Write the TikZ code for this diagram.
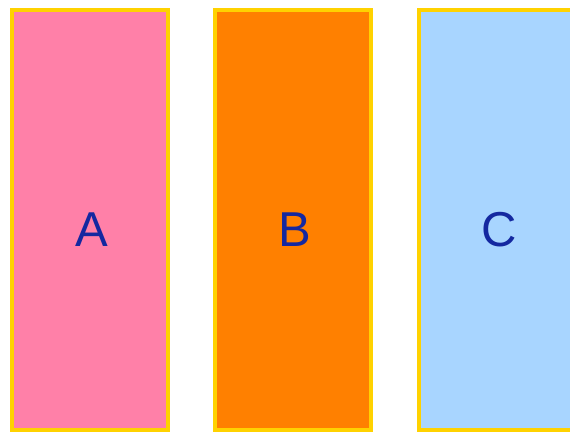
\documentclass[tikz,border=0pt]{standalone}
\usepackage{fontspec}
\setmainfont{Liberation Sans}
\usepackage{tikz}
\definecolor{barpink}{HTML}{FF80A8}
\definecolor{barorange}{HTML}{FF8000}
\definecolor{barblue}{HTML}{A8D5FF}
\definecolor{bargold}{HTML}{FFD200}
\definecolor{letterblue}{HTML}{1428A0}
\begin{document}
\begin{tikzpicture}[x=1pt,y=1pt,
  bar/.style={draw=bargold,line width=4pt,rectangle,inner sep=0pt,
    minimum width=156pt,minimum height=420pt},
  letter/.style={text=letterblue,inner sep=0pt,font=\fontsize{49}{49}\selectfont}]

\useasboundingbox (0,0) rectangle (570,432);

\node[bar,fill=barpink] (barA) at (90,212) {}; %A
\node[bar,fill=barorange] (barB) at (293,212) {}; %B
\node[bar,fill=barblue] (barC) at (497,212) {}; %C

\node[letter] (labA) at ([yshift=-9.5pt,xshift=1.5pt]barA.center) {A};
\node[letter] (labB) at ([yshift=-9.5pt,xshift=2pt]barB.center) {B};
\node[letter] (labC) at ([yshift=-9.5pt,xshift=2.5pt]barC.center) {C};

\end{tikzpicture}
\end{document}
